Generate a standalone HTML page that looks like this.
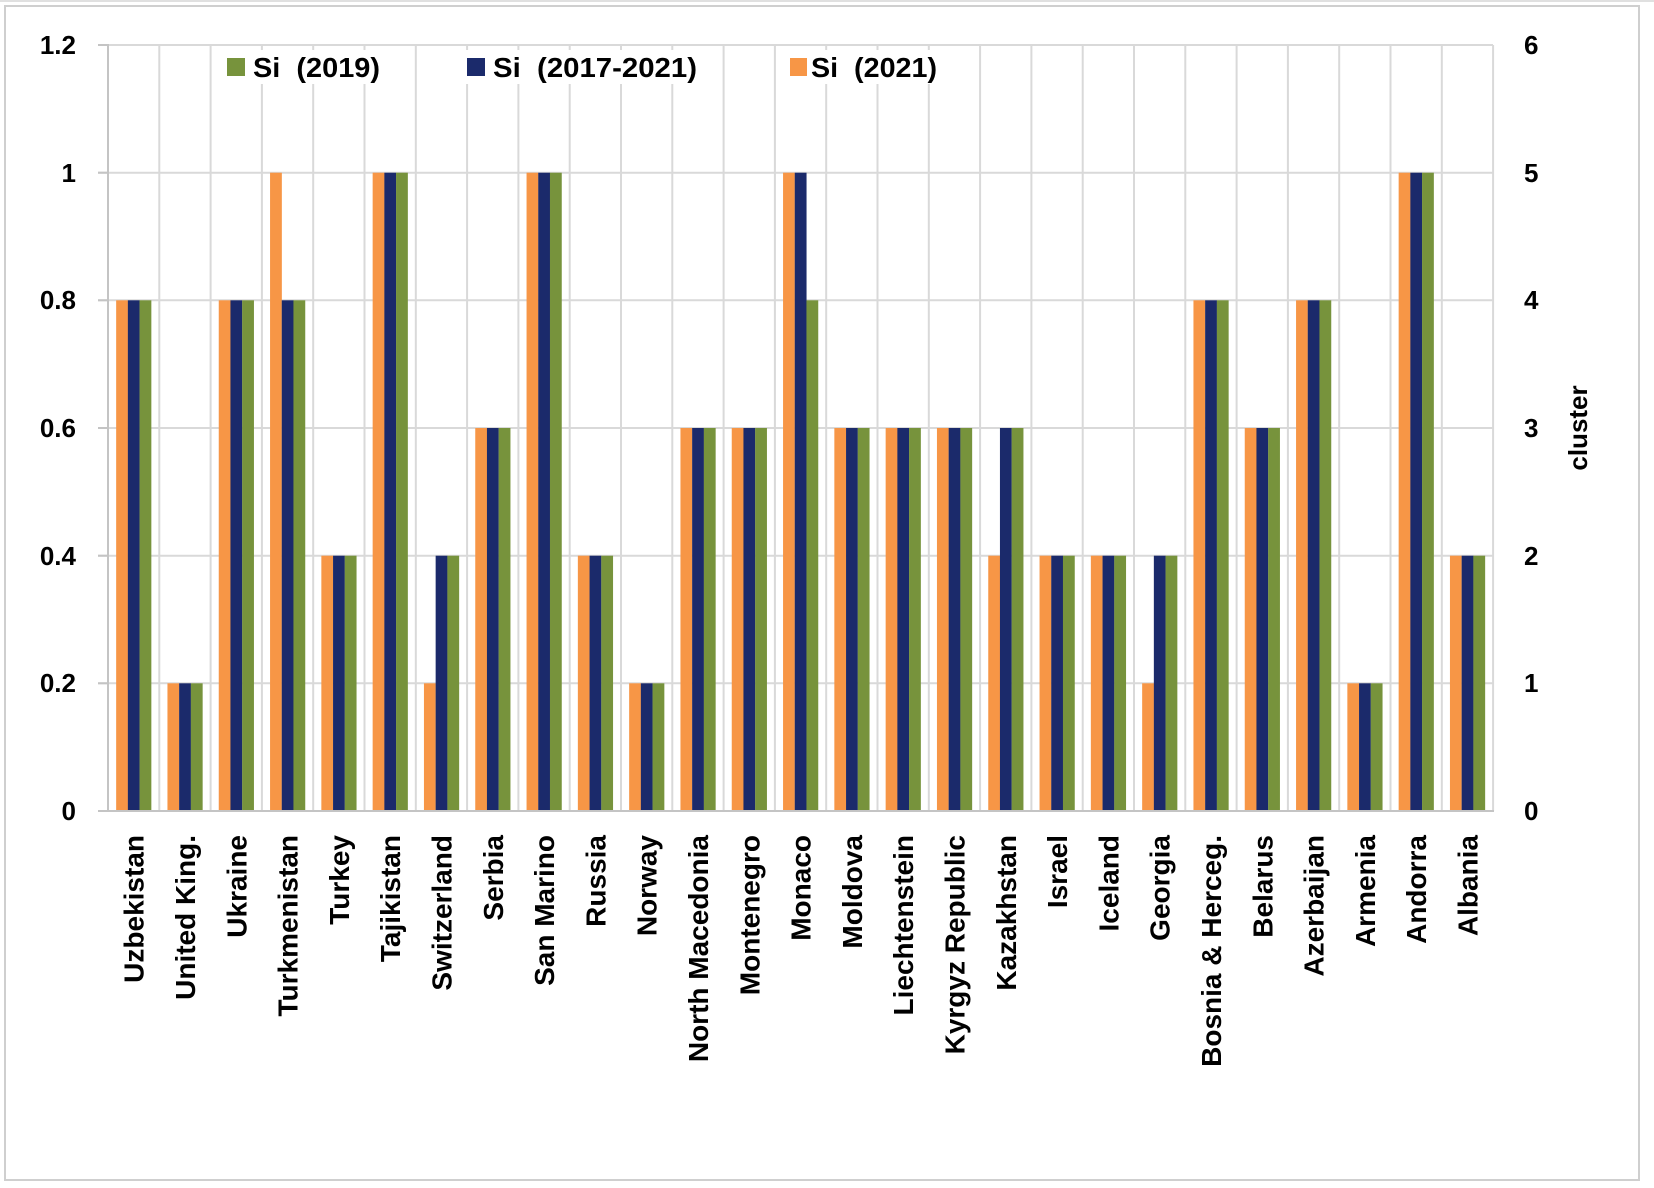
<!DOCTYPE html>
<html><head><meta charset="utf-8"><style>
html,body{margin:0;padding:0;background:#fff;}
svg{display:block;}
text{font-family:"Liberation Sans",sans-serif;font-weight:bold;fill:#000;}
</style></head><body>
<svg width="1654" height="1188" viewBox="0 0 1654 1188" xmlns="http://www.w3.org/2000/svg">
<rect x="0" y="0" width="1654" height="1188" fill="#fff"/>
<rect x="5" y="6" width="1634" height="1174" fill="none" stroke="#cfcfcf" stroke-width="2"/>
<line x1="0" y1="1" x2="1654" y2="1" stroke="#e0e0e0" stroke-width="2"/>
<!-- horizontal gridlines -->
<g stroke="#d9d9d9" stroke-width="2">
<line x1="98" y1="45" x2="1493" y2="45"/>
<line x1="98" y1="172.7" x2="1493" y2="172.7"/>
<line x1="98" y1="300.3" x2="1493" y2="300.3"/>
<line x1="98" y1="428" x2="1493" y2="428"/>
<line x1="98" y1="555.7" x2="1493" y2="555.7"/>
<line x1="98" y1="683.3" x2="1493" y2="683.3"/>
</g>
<!-- vertical gridlines -->
<g stroke="#d9d9d9" stroke-width="2">
<line x1="159.3" y1="45" x2="159.3" y2="811"/>
<line x1="210.6" y1="45" x2="210.6" y2="811"/>
<line x1="261.9" y1="45" x2="261.9" y2="811"/>
<line x1="313.2" y1="45" x2="313.2" y2="811"/>
<line x1="364.5" y1="45" x2="364.5" y2="811"/>
<line x1="415.8" y1="45" x2="415.8" y2="811"/>
<line x1="467.1" y1="45" x2="467.1" y2="811"/>
<line x1="518.4" y1="45" x2="518.4" y2="811"/>
<line x1="569.7" y1="45" x2="569.7" y2="811"/>
<line x1="621" y1="45" x2="621" y2="811"/>
<line x1="672.3" y1="45" x2="672.3" y2="811"/>
<line x1="723.6" y1="45" x2="723.6" y2="811"/>
<line x1="774.9" y1="45" x2="774.9" y2="811"/>
<line x1="826.2" y1="45" x2="826.2" y2="811"/>
<line x1="877.5" y1="45" x2="877.5" y2="811"/>
<line x1="928.8" y1="45" x2="928.8" y2="811"/>
<line x1="980.1" y1="45" x2="980.1" y2="811"/>
<line x1="1031.4" y1="45" x2="1031.4" y2="811"/>
<line x1="1082.7" y1="45" x2="1082.7" y2="811"/>
<line x1="1134" y1="45" x2="1134" y2="811"/>
<line x1="1185.3" y1="45" x2="1185.3" y2="811"/>
<line x1="1236.6" y1="45" x2="1236.6" y2="811"/>
<line x1="1287.9" y1="45" x2="1287.9" y2="811"/>
<line x1="1339.2" y1="45" x2="1339.2" y2="811"/>
<line x1="1390.5" y1="45" x2="1390.5" y2="811"/>
<line x1="1441.8" y1="45" x2="1441.8" y2="811"/>
<line x1="1493.1" y1="45" x2="1493.1" y2="811"/>
</g>
<!-- legend -->
<rect x="223" y="50" width="161" height="34" fill="#fff"/>
<rect x="463" y="50" width="238" height="34" fill="#fff"/>
<rect x="786" y="50" width="155" height="34" fill="#fff"/>
<rect x="227" y="58" width="18" height="18" fill="#77933c"/>
<text x="253" y="77" font-size="28" textLength="127" lengthAdjust="spacingAndGlyphs" xml:space="preserve">Si  (2019)</text>
<rect x="467" y="58" width="18" height="18" fill="#1b2a6b"/>
<text x="493" y="77" font-size="28" textLength="204" lengthAdjust="spacingAndGlyphs" xml:space="preserve">Si  (2017-2021)</text>
<rect x="790" y="58" width="17" height="18" fill="#f79646"/>
<text x="811" y="77" font-size="28" textLength="126" lengthAdjust="spacingAndGlyphs" xml:space="preserve">Si  (2021)</text>
<!-- bars: orange (2021), navy (2017-2021), green (2019) -->
<g>
<g transform="translate(133.65,0)"><rect x="-17.5" y="300.3" width="11.8" height="510.7" fill="#f79646"/><rect x="-5.8" y="300.3" width="11.8" height="510.7" fill="#1b2a6b"/><rect x="5.9" y="300.3" width="11.8" height="510.7" fill="#77933c"/></g>
<g transform="translate(184.95,0)"><rect x="-17.5" y="683.3" width="11.8" height="127.7" fill="#f79646"/><rect x="-5.8" y="683.3" width="11.8" height="127.7" fill="#1b2a6b"/><rect x="5.9" y="683.3" width="11.8" height="127.7" fill="#77933c"/></g>
<g transform="translate(236.25,0)"><rect x="-17.5" y="300.3" width="11.8" height="510.7" fill="#f79646"/><rect x="-5.8" y="300.3" width="11.8" height="510.7" fill="#1b2a6b"/><rect x="5.9" y="300.3" width="11.8" height="510.7" fill="#77933c"/></g>
<g transform="translate(287.55,0)"><rect x="-17.5" y="172.7" width="11.8" height="638.3" fill="#f79646"/><rect x="-5.8" y="300.3" width="11.8" height="510.7" fill="#1b2a6b"/><rect x="5.9" y="300.3" width="11.8" height="510.7" fill="#77933c"/></g>
<g transform="translate(338.85,0)"><rect x="-17.5" y="555.7" width="11.8" height="255.3" fill="#f79646"/><rect x="-5.8" y="555.7" width="11.8" height="255.3" fill="#1b2a6b"/><rect x="5.9" y="555.7" width="11.8" height="255.3" fill="#77933c"/></g>
<g transform="translate(390.15,0)"><rect x="-17.5" y="172.7" width="11.8" height="638.3" fill="#f79646"/><rect x="-5.8" y="172.7" width="11.8" height="638.3" fill="#1b2a6b"/><rect x="5.9" y="172.7" width="11.8" height="638.3" fill="#77933c"/></g>
<g transform="translate(441.45,0)"><rect x="-17.5" y="683.3" width="11.8" height="127.7" fill="#f79646"/><rect x="-5.8" y="555.7" width="11.8" height="255.3" fill="#1b2a6b"/><rect x="5.9" y="555.7" width="11.8" height="255.3" fill="#77933c"/></g>
<g transform="translate(492.75,0)"><rect x="-17.5" y="428" width="11.8" height="383" fill="#f79646"/><rect x="-5.8" y="428" width="11.8" height="383" fill="#1b2a6b"/><rect x="5.9" y="428" width="11.8" height="383" fill="#77933c"/></g>
<g transform="translate(544.05,0)"><rect x="-17.5" y="172.7" width="11.8" height="638.3" fill="#f79646"/><rect x="-5.8" y="172.7" width="11.8" height="638.3" fill="#1b2a6b"/><rect x="5.9" y="172.7" width="11.8" height="638.3" fill="#77933c"/></g>
<g transform="translate(595.35,0)"><rect x="-17.5" y="555.7" width="11.8" height="255.3" fill="#f79646"/><rect x="-5.8" y="555.7" width="11.8" height="255.3" fill="#1b2a6b"/><rect x="5.9" y="555.7" width="11.8" height="255.3" fill="#77933c"/></g>
<g transform="translate(646.65,0)"><rect x="-17.5" y="683.3" width="11.8" height="127.7" fill="#f79646"/><rect x="-5.8" y="683.3" width="11.8" height="127.7" fill="#1b2a6b"/><rect x="5.9" y="683.3" width="11.8" height="127.7" fill="#77933c"/></g>
<g transform="translate(697.95,0)"><rect x="-17.5" y="428" width="11.8" height="383" fill="#f79646"/><rect x="-5.8" y="428" width="11.8" height="383" fill="#1b2a6b"/><rect x="5.9" y="428" width="11.8" height="383" fill="#77933c"/></g>
<g transform="translate(749.25,0)"><rect x="-17.5" y="428" width="11.8" height="383" fill="#f79646"/><rect x="-5.8" y="428" width="11.8" height="383" fill="#1b2a6b"/><rect x="5.9" y="428" width="11.8" height="383" fill="#77933c"/></g>
<g transform="translate(800.55,0)"><rect x="-17.5" y="172.7" width="11.8" height="638.3" fill="#f79646"/><rect x="-5.8" y="172.7" width="11.8" height="638.3" fill="#1b2a6b"/><rect x="5.9" y="300.3" width="11.8" height="510.7" fill="#77933c"/></g>
<g transform="translate(851.85,0)"><rect x="-17.5" y="428" width="11.8" height="383" fill="#f79646"/><rect x="-5.8" y="428" width="11.8" height="383" fill="#1b2a6b"/><rect x="5.9" y="428" width="11.8" height="383" fill="#77933c"/></g>
<g transform="translate(903.15,0)"><rect x="-17.5" y="428" width="11.8" height="383" fill="#f79646"/><rect x="-5.8" y="428" width="11.8" height="383" fill="#1b2a6b"/><rect x="5.9" y="428" width="11.8" height="383" fill="#77933c"/></g>
<g transform="translate(954.45,0)"><rect x="-17.5" y="428" width="11.8" height="383" fill="#f79646"/><rect x="-5.8" y="428" width="11.8" height="383" fill="#1b2a6b"/><rect x="5.9" y="428" width="11.8" height="383" fill="#77933c"/></g>
<g transform="translate(1005.75,0)"><rect x="-17.5" y="555.7" width="11.8" height="255.3" fill="#f79646"/><rect x="-5.8" y="428" width="11.8" height="383" fill="#1b2a6b"/><rect x="5.9" y="428" width="11.8" height="383" fill="#77933c"/></g>
<g transform="translate(1057.05,0)"><rect x="-17.5" y="555.7" width="11.8" height="255.3" fill="#f79646"/><rect x="-5.8" y="555.7" width="11.8" height="255.3" fill="#1b2a6b"/><rect x="5.9" y="555.7" width="11.8" height="255.3" fill="#77933c"/></g>
<g transform="translate(1108.35,0)"><rect x="-17.5" y="555.7" width="11.8" height="255.3" fill="#f79646"/><rect x="-5.8" y="555.7" width="11.8" height="255.3" fill="#1b2a6b"/><rect x="5.9" y="555.7" width="11.8" height="255.3" fill="#77933c"/></g>
<g transform="translate(1159.65,0)"><rect x="-17.5" y="683.3" width="11.8" height="127.7" fill="#f79646"/><rect x="-5.8" y="555.7" width="11.8" height="255.3" fill="#1b2a6b"/><rect x="5.9" y="555.7" width="11.8" height="255.3" fill="#77933c"/></g>
<g transform="translate(1210.95,0)"><rect x="-17.5" y="300.3" width="11.8" height="510.7" fill="#f79646"/><rect x="-5.8" y="300.3" width="11.8" height="510.7" fill="#1b2a6b"/><rect x="5.9" y="300.3" width="11.8" height="510.7" fill="#77933c"/></g>
<g transform="translate(1262.25,0)"><rect x="-17.5" y="428" width="11.8" height="383" fill="#f79646"/><rect x="-5.8" y="428" width="11.8" height="383" fill="#1b2a6b"/><rect x="5.9" y="428" width="11.8" height="383" fill="#77933c"/></g>
<g transform="translate(1313.55,0)"><rect x="-17.5" y="300.3" width="11.8" height="510.7" fill="#f79646"/><rect x="-5.8" y="300.3" width="11.8" height="510.7" fill="#1b2a6b"/><rect x="5.9" y="300.3" width="11.8" height="510.7" fill="#77933c"/></g>
<g transform="translate(1364.85,0)"><rect x="-17.5" y="683.3" width="11.8" height="127.7" fill="#f79646"/><rect x="-5.8" y="683.3" width="11.8" height="127.7" fill="#1b2a6b"/><rect x="5.9" y="683.3" width="11.8" height="127.7" fill="#77933c"/></g>
<g transform="translate(1416.15,0)"><rect x="-17.5" y="172.7" width="11.8" height="638.3" fill="#f79646"/><rect x="-5.8" y="172.7" width="11.8" height="638.3" fill="#1b2a6b"/><rect x="5.9" y="172.7" width="11.8" height="638.3" fill="#77933c"/></g>
<g transform="translate(1467.45,0)"><rect x="-17.5" y="555.7" width="11.8" height="255.3" fill="#f79646"/><rect x="-5.8" y="555.7" width="11.8" height="255.3" fill="#1b2a6b"/><rect x="5.9" y="555.7" width="11.8" height="255.3" fill="#77933c"/></g>
</g>
<!-- axes -->
<g stroke="#c4c4c4" stroke-width="2">
<line x1="108" y1="44" x2="108" y2="812"/>
<line x1="98" y1="811" x2="1494" y2="811"/>
<line x1="98" y1="45" x2="108" y2="45"/>
<line x1="98" y1="172.7" x2="108" y2="172.7"/>
<line x1="98" y1="300.3" x2="108" y2="300.3"/>
<line x1="98" y1="428" x2="108" y2="428"/>
<line x1="98" y1="555.7" x2="108" y2="555.7"/>
<line x1="98" y1="683.3" x2="108" y2="683.3"/>
</g>
<!-- left axis labels -->
<g font-size="26" text-anchor="end">
<text x="76" y="54">1.2</text>
<text x="76" y="182">1</text>
<text x="76" y="309">0.8</text>
<text x="76" y="437">0.6</text>
<text x="76" y="565">0.4</text>
<text x="76" y="692">0.2</text>
<text x="76" y="820">0</text>
</g>
<!-- right axis labels -->
<g font-size="26" text-anchor="start">
<text x="1524" y="54">6</text>
<text x="1524" y="182">5</text>
<text x="1524" y="309">4</text>
<text x="1524" y="437">3</text>
<text x="1524" y="565">2</text>
<text x="1524" y="692">1</text>
<text x="1524" y="820">0</text>
</g>
<text transform="translate(1587,428) rotate(-90)" font-size="26" text-anchor="middle">cluster</text>
<!-- category labels -->
<g font-size="28" text-anchor="end">
<text transform="translate(143.65,835) rotate(-90)">Uzbekistan</text>
<text transform="translate(194.95,835) rotate(-90)">United King.</text>
<text transform="translate(246.25,835) rotate(-90)">Ukraine</text>
<text transform="translate(297.55,835) rotate(-90)">Turkmenistan</text>
<text transform="translate(348.85,835) rotate(-90)">Turkey</text>
<text transform="translate(400.15,835) rotate(-90)">Tajikistan</text>
<text transform="translate(451.45,835) rotate(-90)">Switzerland</text>
<text transform="translate(502.75,835) rotate(-90)">Serbia</text>
<text transform="translate(554.05,835) rotate(-90)">San Marino</text>
<text transform="translate(605.35,835) rotate(-90)">Russia</text>
<text transform="translate(656.65,835) rotate(-90)">Norway</text>
<text transform="translate(707.95,835) rotate(-90)">North Macedonia</text>
<text transform="translate(759.25,835) rotate(-90)">Montenegro</text>
<text transform="translate(810.55,835) rotate(-90)">Monaco</text>
<text transform="translate(861.85,835) rotate(-90)">Moldova</text>
<text transform="translate(913.15,835) rotate(-90)">Liechtenstein</text>
<text transform="translate(964.45,835) rotate(-90)">Kyrgyz Republic</text>
<text transform="translate(1015.75,835) rotate(-90)">Kazakhstan</text>
<text transform="translate(1067.05,835) rotate(-90)">Israel</text>
<text transform="translate(1118.35,835) rotate(-90)">Iceland</text>
<text transform="translate(1169.65,835) rotate(-90)">Georgia</text>
<text transform="translate(1220.95,835) rotate(-90)">Bosnia &amp; Herceg.</text>
<text transform="translate(1272.25,835) rotate(-90)">Belarus</text>
<text transform="translate(1323.55,835) rotate(-90)">Azerbaijan</text>
<text transform="translate(1374.85,835) rotate(-90)">Armenia</text>
<text transform="translate(1426.15,835) rotate(-90)">Andorra</text>
<text transform="translate(1477.45,835) rotate(-90)">Albania</text>
</g>
</svg>
</body></html>
